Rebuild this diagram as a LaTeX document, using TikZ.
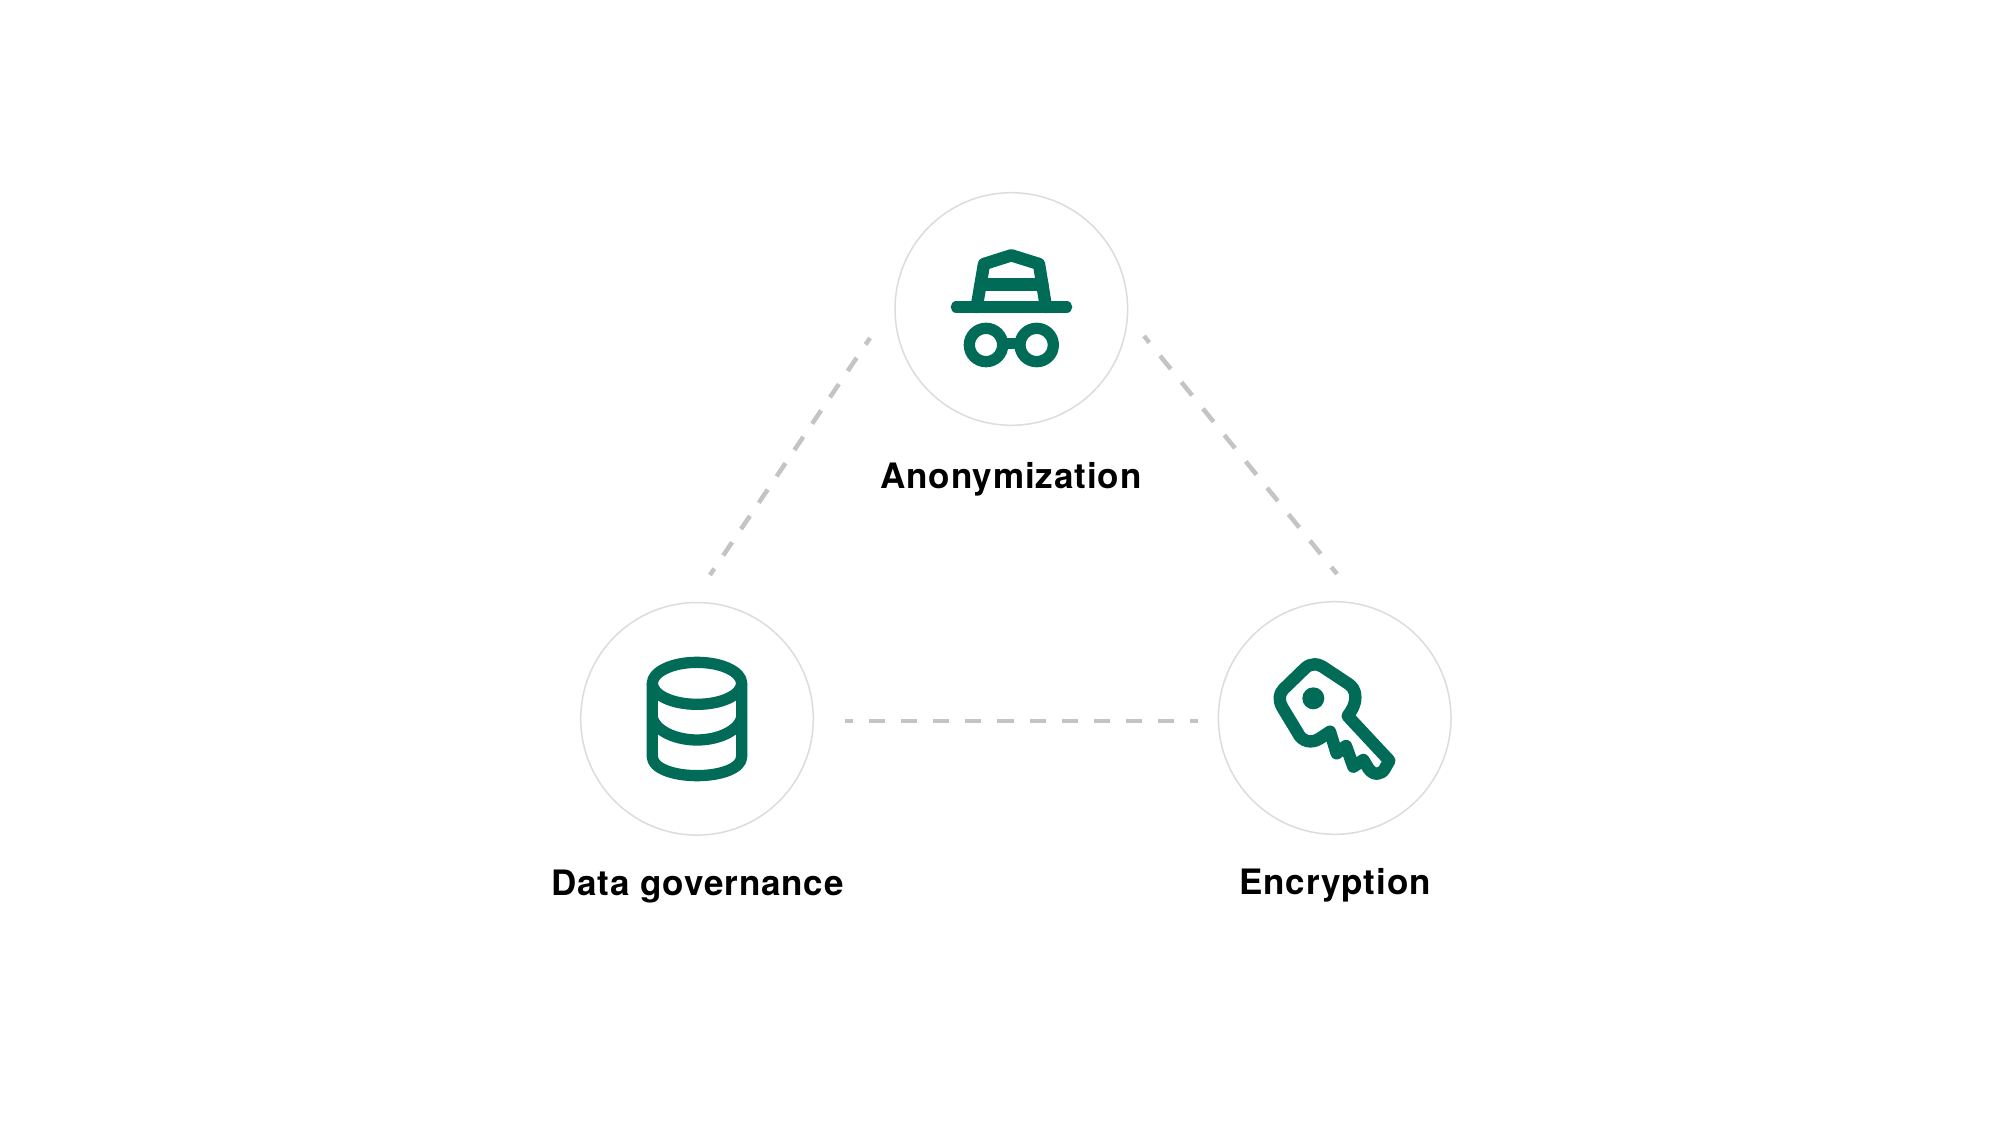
\documentclass[tikz,border=0pt]{standalone}
\usepackage{fontspec}
\setmainfont{TeX Gyre Heros}[LetterSpace=2.6]
\definecolor{brandgreen}{HTML}{006B57}
\definecolor{ringgray}{HTML}{DCDCDC}
\definecolor{dashgray}{HTML}{C4C4C4}
\tikzset{
  ring/.style={circle,draw=ringgray,line width=1.5pt,minimum size=232.6pt,inner sep=0pt},
  link/.style={draw=dashgray,line width=4.5pt,dash pattern=on #1pt off #1pt,dash phase=#1pt/2},
  caption/.style={font=\fontsize{35}{40}\selectfont\bfseries,text=black,inner sep=0pt,anchor=base},
  glyph/.style={draw=brandgreen,line width=11.3pt,line join=round,line cap=round},
  heavyglyph/.style={glyph,line width=12.4pt},
  zoomed/.style={x=0.3333pt,y=-0.3333pt}
}
\begin{document}
\begin{tikzpicture}[x=1pt,y=-1pt]
\useasboundingbox (0,0) rectangle (1999,1143);
\fill[white] (0,0) rectangle (1999,1143);
\node[ring] (anon) at (1011.3,309) {};
\node[ring] (data) at (697,718.8) {};
\node[ring] (encr) at (1334.7,718) {};
\node[caption] (lanon) at (1011,488) {Anonymization};
\node[caption] (ldata) at (697.5,895) {Data governance};
\node[caption] (lencr) at (1335,894) {Encryption};
\coordinate (a1) at (870,338);
\coordinate (d1) at (710,575);
\coordinate (a2) at (1144,336);
\coordinate (e1) at (1337,574);
\coordinate (d2) at (845,721);
\coordinate (e2) at (1198,721);
\draw[link=15.9] (a1) -- (d1);
\draw[link=17] (a2) -- (e1);
\draw[link=16.05] (d2) -- (e2);
\begin{scope}[shift={(880,180)},zoomed]
\draw[glyph] (229,381) -- (560,381);
\draw[heavyglyph] (290,381) -- (312,252) -- (394,226) -- (477,252) -- (498,381);
\draw[heavyglyph] (302,314) -- (487,314);
\draw[glyph] (318,495) circle (50);
\draw[glyph] (470,495) circle (50);
\draw[glyph,line cap=butt] (368,490) -- (420,490);
\end{scope}
\begin{scope}[shift={(570,590)},zoomed]
\draw[glyph] (381,280) ellipse (134 and 63);
\draw[glyph] (247,280) -- (247,500) .. controls (247,535) and (310,557) .. (381,557) .. controls (452,557) and (515,535) .. (515,500) -- (515,280);
\draw[glyph] (247,385) .. controls (260,425) and (320,450) .. (381,450) .. controls (442,450) and (502,425) .. (515,385);
\end{scope}
\begin{scope}[shift={(1205,590)},zoomed]
\draw[heavyglyph] (428,378) .. controls (440,362) and (451,345) .. (451,322) .. controls (451,298) and (440,288) .. (428,280) -- (360,235) .. controls (340,220) and (318,218) .. (300,235) -- (235,298) .. controls (222,312) and (220,330) .. (232,352) -- (278,428) .. controls (290,455) and (320,462) .. (345,445) -- (375,425) -- (395,490) -- (423,468) -- (445,530) -- (475,510) -- (490,535) .. controls (505,558) and (530,555) .. (540,535) -- (553,512) -- cycle;
\fill[brandgreen] (325,325) circle (33);
\end{scope}
\end{tikzpicture}
\end{document}
